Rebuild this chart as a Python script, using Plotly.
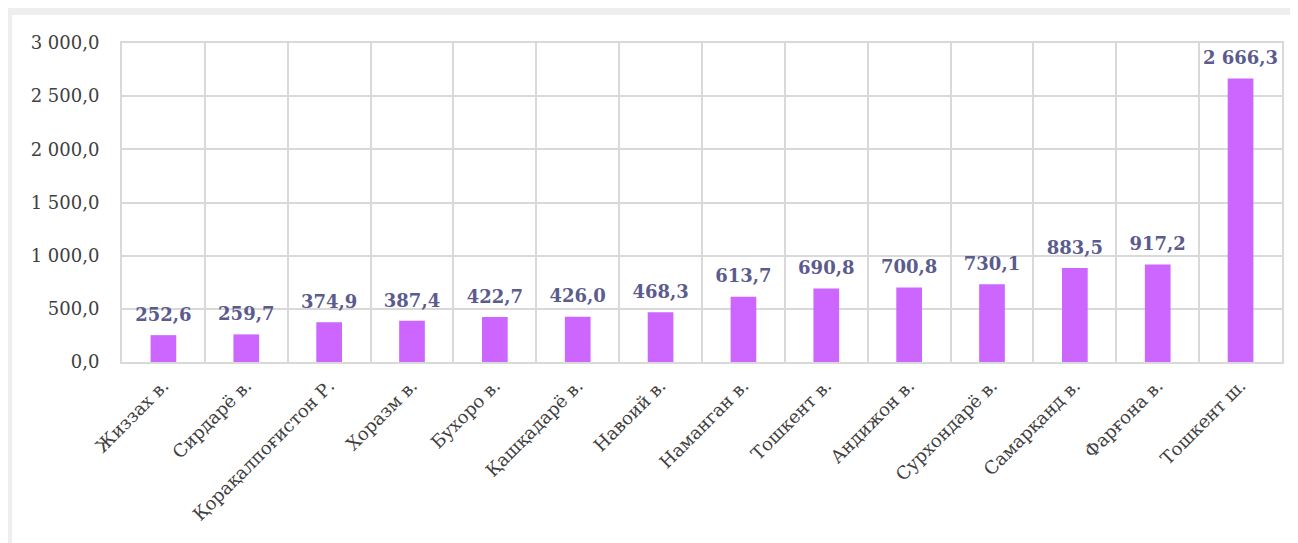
import plotly.graph_objects as go

regions = [
    "Жиззах в.", "Сирдарё в.", "Қорақалпоғистон Р.", "Хоразм в.", "Бухоро в.",
    "Қашқадарё в.", "Навоий в.", "Наманган в.", "Тошкент в.", "Андижон в.",
    "Сурхондарё в.", "Самарқанд в.", "Фарғона в.", "Тошкент ш.",
]
values = [252.6, 259.7, 374.9, 387.4, 422.7, 426.0, 468.3, 613.7, 690.8, 700.8,
          730.1, 883.5, 917.2, 2666.3]

FONT = "DejaVu Serif, Liberation Serif, serif"

fig = go.Figure()
fig.add_trace(go.Bar(
    x=regions,
    y=values,
    marker=dict(color="#cc66ff", line=dict(width=0)),
    hoverinfo="x+y",
))
# value labels above the bars; invisible marker pushes the text up a bit
fig.add_trace(go.Scatter(
    x=regions,
    y=values,
    mode="markers+text",
    marker=dict(size=14, opacity=0),
    texttemplate="%{y:,.1f}",
    textposition="top center",
    textfont=dict(family=FONT, size=18, color="#5b5b8e", weight="bold"),
    cliponaxis=False,
    hoverinfo="skip",
))

# card with shadow
fig.add_shape(type="rect", xref="paper", yref="paper", x0=-0.0948, x1=1.03,
              y0=-1.0, y1=1.0878, fillcolor="white", line=dict(width=0), layer="below")

fig.update_layout(
    width=1298,
    height=543,
    margin=dict(l=114, r=24, t=35, b=189),
    paper_bgcolor="#eeeeee",
    plot_bgcolor="white",
    separators=", ",
    bargap=0.69,
    showlegend=False,
    font=dict(family=FONT, size=18, color="#404040"),
)
fig.update_xaxes(
    type="category",
    range=[-0.5, len(regions) - 0.5],
    automargin=False,
    tickangle=-45,
    tickson="boundaries",
    showgrid=True,
    gridcolor="#d9d9d9",
    gridwidth=2,
    showline=True,
    linecolor="#d9d9d9",
    linewidth=2,
    mirror=True,
    ticks="",
    ticklabelstandoff=4,
    tickfont=dict(family=FONT, size=18, color="#404040"),
)
fig.update_yaxes(
    automargin=False,
    range=[0, 3000],
    dtick=500,
    tickformat=",.1f",
    showgrid=True,
    gridcolor="#d9d9d9",
    gridwidth=2,
    showline=True,
    linecolor="#d9d9d9",
    linewidth=2,
    mirror=True,
    zeroline=False,
    ticks="",
    ticklabelstandoff=17,
    tickfont=dict(family=FONT, size=18, color="#404040"),
)

fig.write_html("out.html")
